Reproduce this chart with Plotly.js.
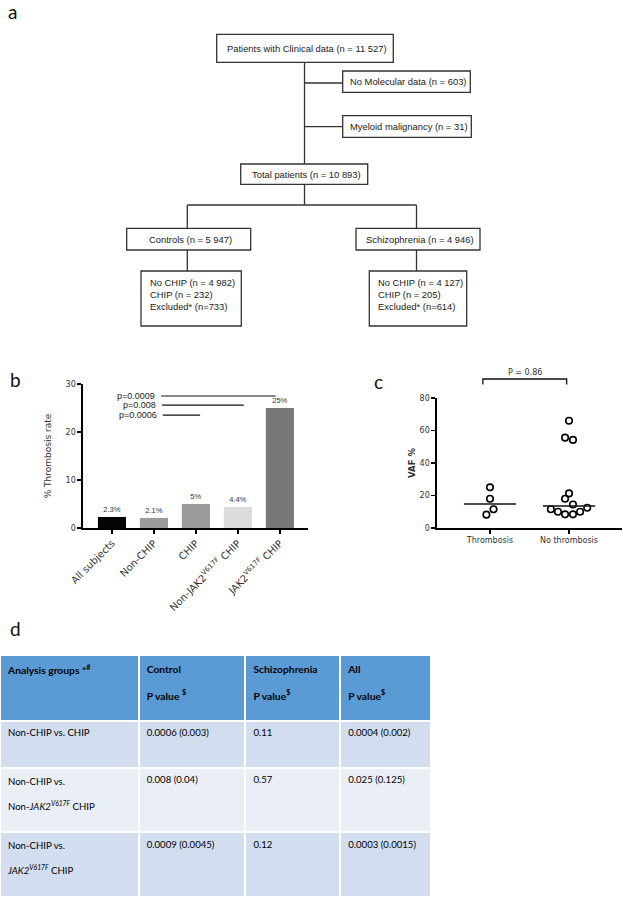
<!DOCTYPE html>
<html><head><meta charset="utf-8">
<script src="https://cdn.plot.ly/plotly-3.0.1.min.js"></script>
<style>body{margin:0;background:#fff}#chart{width:623px;height:900px}</style>
</head><body><div id="chart"></div>
<script>
// ---------- data ----------
const flowTexts = [
  'Patients with Clinical data (n = 11 527)',
  'No Molecular data (n = 603)',
  'Myeloid malignancy (n = 31)',
  'Total patients (n = 10 893)',
  'Controls (n = 5 947)',
  'Schizophrenia (n = 4 946)',
  'No CHIP (n = 4 982)<br>CHIP (n = 232)<br>Excluded* (n=733)',
  'No CHIP (n = 4 127)<br>CHIP (n = 205)<br>Excluded* (n=614)'
];
const barCategories = ['All subjects', 'Non-CHIP', 'CHIP', 'Non-JAK2<sup>V617F</sup> CHIP', 'JAK2<sup>V617F</sup> CHIP'];
const barValues = [2.3, 2.1, 5, 4.4, 25];
const barColors = ['#050505', '#9c9c9c', '#9a9a9a', '#dcdcdc', '#777777'];
const pLabels = ['p=0.0009', 'p=0.008', 'p=0.0006'];
const pLevels = [27.5, 25.6, 23.5];
const pFrom = [1.17, 1.19, 1.21];
const pTo = [3.9, 3.14, 2.1];
const vafGroups = ['Thrombosis', 'No thrombosis'];
const vafThrombosis = [25, 18, 11.5, 8.2];
const vafThrombosisOffset = [0, 0, 0.045, -0.045];
const vafNoThrombosis = [66, 55.6, 54.2, 21.3, 18, 14.5, 11.5, 10, 8.4, 8.4, 10, 12.5];
const vafNoThrombosisOffset = [0, -0.05, 0.05, 0, -0.05, 0.05, -0.23, -0.14, -0.05, 0.05, 0.14, 0.23];
const vafPText = 'P = 0.86';
const tableHeader = ['<b>Analysis groups *<sup>#</sup></b>', '<b>Control<br><br>P value <sup>$</sup></b>', '<b>Schizophrenia<br><br>P value<sup>$</sup></b>', '<b>All<br><br>P value<sup>$</sup></b>'];
const tableGroups = ['Non-CHIP vs. CHIP', 'Non-CHIP vs.<br><br>Non-<i>JAK2<sup>V617F</sup></i> CHIP', 'Non-CHIP vs.<br><br><i>JAK2<sup>V617F</sup></i> CHIP'];
const tableControl = ['0.0006 (0.003)', '0.008 (0.04)', '0.0009 (0.0045)'];
const tableSchizophrenia = ['0.11', '0.57', '0.12'];
const tableAll = ['0.0004 (0.002)', '0.025 (0.125)', '0.0003 (0.0015)'];

// ---------- helpers ----------
const W = 623, H = 900;
const X = px => px / W;
const Y = py => 1 - py / H;
const median = a => { const s = [...a].sort((p, q) => p - q); const m = s.length / 2; return s.length % 2 ? s[Math.floor(m)] : (s[m - 1] + s[m]) / 2; };
const flowFont = {family: 'Liberation Sans, Arial, sans-serif', size: 9.4, color: '#222'};
const axFont = {family: 'DejaVu Sans, sans-serif', size: 8, color: '#333'};

// flowchart layout (pixel boxes: x0, y0, x1, y1)
const flowBoxes = [
  [216.7, 34.3, 393.3, 62.3],
  [342.7, 71, 470.3, 92.3],
  [342.7, 115.7, 471.3, 137.3],
  [240.7, 164, 367.7, 184.3],
  [126.7, 228.3, 250.7, 250],
  [356, 228.3, 480, 250],
  [141, 271, 241.3, 326],
  [369.3, 271, 466.7, 326]
];
const flowLines = [
  [304.5, 62.3, 304.5, 164], [304.5, 83, 342.7, 83], [304.5, 126.7, 342.7, 126.7],
  [304.5, 184.3, 304.5, 205], [187.3, 205, 416.5, 205],
  [187.3, 205, 187.3, 228.3], [416.5, 205, 416.5, 228.3],
  [187.3, 250, 187.3, 271], [416.5, 250, 416.5, 271]
];

const shapes = [];
const annotations = [];
flowBoxes.forEach((b, i) => {
  shapes.push({type: 'rect', xref: 'paper', yref: 'paper', x0: X(b[0]), x1: X(b[2]), y0: Y(b[1]), y1: Y(b[3]), line: {color: '#333', width: 1.3}});
  const multi = i >= 6;
  annotations.push({xref: 'paper', yref: 'paper', x: multi ? X(b[0] + 7) : X((b[0] + b[2]) / 2 + 2), y: Y(multi ? 295 : (b[1] + b[3]) / 2),
    xanchor: multi ? 'left' : 'center', yanchor: 'middle', align: 'left', showarrow: false, text: flowTexts[i], font: flowFont});
});
flowLines.forEach(l => shapes.push({type: 'line', xref: 'paper', yref: 'paper', x0: X(l[0]), y0: Y(l[1]), x1: X(l[2]), y1: Y(l[3]), line: {color: '#333', width: 1.3}}));

// panel letters
[['a', 12, 11], ['b', 15, 379], ['c', 378, 382], ['d', 15, 628]].forEach(p => annotations.push({
  xref: 'paper', yref: 'paper', x: X(p[1]), y: Y(p[2]), xanchor: 'center', yanchor: 'middle', showarrow: false, text: p[0],
  font: {family: 'Lato, sans-serif', size: 19, color: '#111'}}));

// p-value lines panel b
pLabels.forEach((t, i) => {
  shapes.push({type: 'line', xref: 'x', yref: 'y', x0: pFrom[i], x1: pTo[i], y0: pLevels[i], y1: pLevels[i], line: {color: '#111', width: 1.2}});
  annotations.push({xref: 'x', yref: 'y', x: pFrom[i], y: pLevels[i], xanchor: 'right', yanchor: 'middle', xshift: -4, showarrow: false, text: t,
    font: {family: 'Liberation Sans, sans-serif', size: 9, color: '#222'}});
});

// bracket panel c
shapes.push({type: 'path', xref: 'x2', yref: 'paper', path: `M -0.09 ${Y(384.5)} L -0.09 ${Y(379)} L 0.97 ${Y(379)} L 0.97 ${Y(384.5)}`, line: {color: '#111', width: 1.3}});
annotations.push({xref: 'x2', yref: 'paper', x: 0.44, y: Y(373), xanchor: 'center', yanchor: 'middle', showarrow: false, text: vafPText, font: axFont});

// extra blank line so two-line rows get the reference's taller height
const tallRow = t => t.includes('<br>') ? t + '<br><span style="color:rgba(0,0,0,0)">.</span>' : t;

const idx = barCategories.map((_, i) => i);
const traces = [
  {type: 'bar', x: idx, y: barValues, width: 0.67, marker: {color: barColors, line: {width: 0}},
   text: barValues.map(v => v + '%'), textposition: 'outside', cliponaxis: false,
   textfont: {family: 'Liberation Sans, sans-serif', size: 7.5, color: '#333'}, xaxis: 'x', yaxis: 'y', hoverinfo: 'none'},
  {type: 'scatter', mode: 'markers', x: vafThrombosis.map((_, i) => 0 + vafThrombosisOffset[i]), y: vafThrombosis,
   marker: {symbol: 'circle-open', size: 6.5, color: '#000', line: {width: 1.6}}, xaxis: 'x2', yaxis: 'y2', cliponaxis: false},
  {type: 'scatter', mode: 'markers', x: vafNoThrombosis.map((_, i) => 1 + vafNoThrombosisOffset[i]), y: vafNoThrombosis,
   marker: {symbol: 'circle-open', size: 6.5, color: '#000', line: {width: 1.6}}, xaxis: 'x2', yaxis: 'y2', cliponaxis: false},
  {type: 'scatter', mode: 'lines', x: [-0.33, 0.33], y: [median(vafThrombosis), median(vafThrombosis)], line: {color: '#111', width: 1.5}, xaxis: 'x2', yaxis: 'y2'},
  {type: 'scatter', mode: 'lines', x: [0.67, 1.33], y: [median(vafNoThrombosis), median(vafNoThrombosis)], line: {color: '#111', width: 1.5}, xaxis: 'x2', yaxis: 'y2'},
  {type: 'table', domain: {x: [0, 432 / W], y: [0, Y(655)]}, columnwidth: [139, 107, 95, 91],
   header: {values: tableHeader, align: 'left', height: 66, fill: {color: '#5b9bd5'}, line: {color: '#ffffff', width: 2},
            font: {family: 'Lato, sans-serif', size: 10.3, color: '#000'}},
   cells: {values: [tableGroups.map(tallRow), tableControl, tableSchizophrenia, tableAll], align: 'left', height: 47,
           fill: {color: [['#d2deef', '#eaeff7', '#d2deef']]}, line: {color: '#ffffff', width: 2},
           font: {family: 'Lato, sans-serif', size: 9.6, color: '#000'}}}
];

const layout = {
  width: W, height: H, margin: {l: 0, r: 0, t: 0, b: 0}, showlegend: false, paper_bgcolor: '#fff', plot_bgcolor: 'rgba(0,0,0,0)',
  xaxis: {domain: [X(83), X(308)], range: [-0.69, 4.67], tickvals: idx, ticktext: barCategories, tickangle: -45,
          ticks: 'outside', ticklen: 4, tickwidth: 1.5, tickcolor: '#000', showline: true, linecolor: '#000', linewidth: 1.6,
          showgrid: false, zeroline: false, tickfont: {family: 'DejaVu Sans, sans-serif', size: 10, color: '#333'}, fixedrange: true},
  yaxis: {domain: [Y(528), Y(384)], range: [0, 30], tickvals: [0, 10, 20, 30], ticks: 'outside', ticklen: 4, tickwidth: 1.5, tickcolor: '#000',
          showline: true, linecolor: '#000', linewidth: 1.6, showgrid: false, zeroline: false, tickfont: axFont,
          title: {text: '% Thrombosis rate', font: {family: 'DejaVu Sans, sans-serif', size: 9, color: '#333'}, standoff: 12}, fixedrange: true},
  xaxis2: {domain: [X(437), X(622)], range: [-0.67, 1.67], tickvals: [0, 1], ticktext: vafGroups, anchor: 'y2',
           ticks: 'outside', ticklen: 4, tickwidth: 1.5, tickcolor: '#000', showline: true, linecolor: '#000', linewidth: 1.6,
           showgrid: false, zeroline: false, tickfont: axFont, fixedrange: true},
  yaxis2: {domain: [Y(528), Y(398)], range: [0, 80], tickvals: [0, 20, 40, 60, 80], anchor: 'x2', ticks: 'outside', ticklen: 4, tickwidth: 1.5, tickcolor: '#000',
           showline: true, linecolor: '#000', linewidth: 1.6, showgrid: false, zeroline: false, tickfont: axFont,
           title: {text: '<b>VAF %</b>', font: {family: 'DejaVu Sans, sans-serif', size: 8.5, color: '#333'}, standoff: 2}, fixedrange: true},
  shapes: shapes,
  annotations: annotations
};
Plotly.newPlot('chart', traces, layout, {displayModeBar: false, staticPlot: true});
</script>
</body></html>
